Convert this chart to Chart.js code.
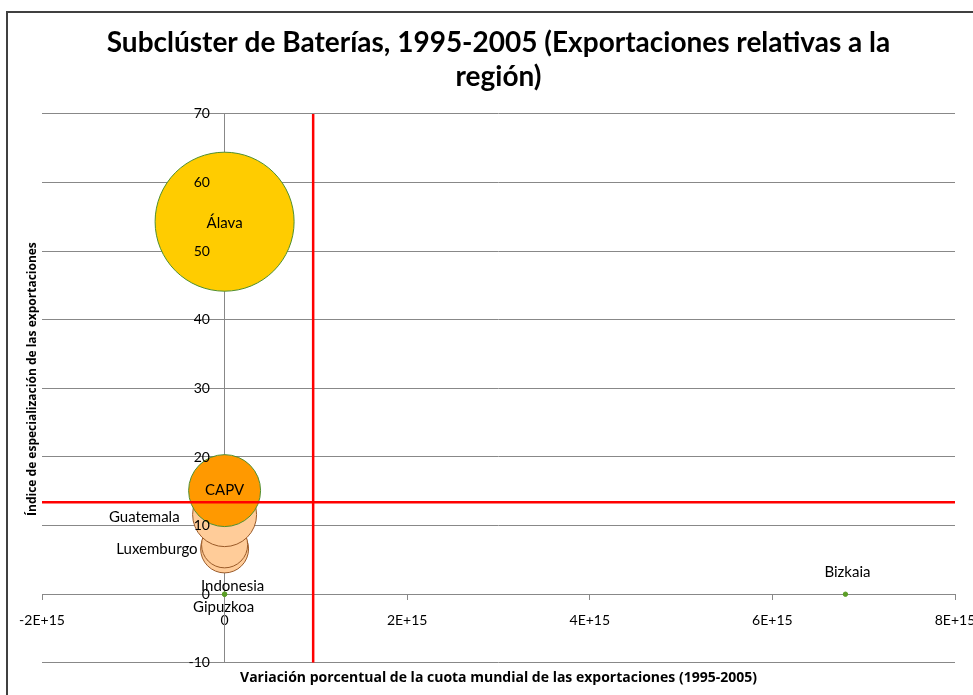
<!DOCTYPE html>
<html>
<head>
    <meta charset="UTF-8">
    <title>Subclúster de Baterías</title>
    <style>
        body {
            margin: 0;
            background: #ffffff;
            overflow: hidden;
        }

        #marco {
            position: absolute;
            left: 6px;
            top: 11px;
            width: 967px;
            height: 684px;
            border-left: 2px solid #404040;
            border-top: 2px solid #404040;
            box-sizing: border-box;
        }

        #contenedor {
            position: absolute;
            left: 0;
            top: 0;
            width: 973px;
            height: 695px;
        }
    </style>
    <script src="https://cdn.jsdelivr.net/npm/chart.js"></script>
</head>
<body>
    <div id="marco"></div>
    <div id="contenedor"><canvas id="grafico" width="973" height="695"></canvas></div>

    <script>
        // datos
        var nombres = ['Álava', 'Luxemburgo', '', 'Guatemala', 'CAPV', 'Indonesia', 'Gipuzkoa', 'Bizkaia'];
        var variacion = [0, 0, 0, 0, 0, 0, 0, 6.8e15];          // eje X
        var especializacion = [54.3, 6.6, 7.2, 11.6, 15.1, 0, 0, 0]; // eje Y
        var tamano = [100, 11.9, 11, 21.2, 26.8, 0.1, 0.1, 0.1];   // tamaño de burbuja

        var ticksX = [-2e15, 0, 2e15, 4e15, 6e15, 8e15];
        var ticksY = [-10, 0, 10, 20, 30, 40, 50, 60, 70];

        var mediaX = 0.97e15;
        var mediaY = 13.4;

        var radioMax = 69.5;
        function radio(s) {
            return radioMax * Math.sqrt(s / 100);
        }

        // colores por serie
        var colores = {
            'Álava': ['#FFCC00', '#4F8F2F'],
            'CAPV': ['#FF9900', '#4F8F2F'],
            'Guatemala': ['#FFCC99', '#9A5A28'],
            'Luxemburgo': ['#FFCC99', '#9A5A28'],
            '': ['#FFCC99', '#9A5A28'],
            'Indonesia': ['#5B9E26', '#5B9E26'],
            'Gipuzkoa': ['#5B9E26', '#5B9E26'],
            'Bizkaia': ['#5B9E26', '#5B9E26']
        };

        // donde va cada etiqueta respecto a su burbuja
        var posEtiqueta = {
            'Álava': { dx: 0, dy: 1, alinear: 'center' },
            'CAPV': { dx: 0, dy: 0, alinear: 'center' },
            'Guatemala': { dx: -45, dy: 3, alinear: 'right' },
            'Luxemburgo': { dx: -27, dy: 0, alinear: 'right' },
            'Indonesia': { dx: 8, dy: -8, alinear: 'center' },
            'Gipuzkoa': { dx: -1, dy: 13, alinear: 'center' },
            'Bizkaia': { dx: 2, dy: -22, alinear: 'center' }
        };

        var gris = '#888888';
        var fuenteTicks = { family: 'Lato', size: 14 };

        var etiquetas = {
            id: 'etiquetas',
            afterDatasetsDraw: function (chart) {
                var meta = chart.getDatasetMeta(2);
                var ctx = chart.ctx;
                ctx.save();
                ctx.font = '15px Lato';
                ctx.fillStyle = '#000000';
                ctx.textBaseline = 'middle';
                meta.data.forEach(function (el, i) {
                    var p = posEtiqueta[nombres[i]];
                    if (!p) return;
                    ctx.textAlign = p.alinear;
                    ctx.fillText(nombres[i], el.x + p.dx, el.y + p.dy);
                });
                ctx.restore();
            }
        };

        var puntos = nombres.map(function (n, i) {
            return { x: variacion[i], y: especializacion[i], r: radio(tamano[i]) };
        });

        function fijarTicksY(s) {
            s.ticks = ticksY.map(function (v) { return { value: v }; });
        }
        function sinPaddingY(s) {
            s.paddingTop = 0;
            s.paddingBottom = 0;
        }

        var ctx = document.getElementById('grafico').getContext('2d');
        new Chart(ctx, {
            type: 'bubble',
            data: {
                datasets: [{
                    type: 'line',
                    data: [{ x: mediaX, y: ticksY[0] }, { x: mediaX, y: ticksY[ticksY.length - 1] }],
                    borderColor: '#FF0000',
                    borderWidth: 2.5,
                    pointRadius: 0,
                    fill: false,
                    order: 0
                }, {
                    type: 'line',
                    data: [{ x: ticksX[0], y: mediaY }, { x: ticksX[ticksX.length - 1], y: mediaY }],
                    borderColor: '#FF0000',
                    borderWidth: 2.5,
                    pointRadius: 0,
                    fill: false,
                    order: 0
                }, {
                    data: puntos,
                    backgroundColor: nombres.map(function (n) { return colores[n][0]; }),
                    borderColor: nombres.map(function (n) { return colores[n][1]; }),
                    borderWidth: 1,
                    order: 1
                }]
            },
            options: {
                responsive: false,
                animation: false,
                devicePixelRatio: 1,
                events: [],
                layout: {
                    autoPadding: false,
                    padding: { left: 19.6, right: 18, top: 0, bottom: 6.4 }
                },
                plugins: {
                    legend: { display: false },
                    tooltip: { enabled: false },
                    title: {
                        display: true,
                        fullSize: false,
                        text: ['Subclúster de Baterías, 1995-2005 (Exportaciones relativas a la', 'región)'],
                        color: '#000000',
                        font: { family: 'Lato', size: 28, weight: 'bold', lineHeight: 1.214 },
                        padding: { top: 26, bottom: 20 }
                    }
                },
                scales: {
                    x: {
                        type: 'linear',
                        position: { y: 0 },
                        min: ticksX[0],
                        max: ticksX[ticksX.length - 1],
                        afterBuildTicks: function (s) {
                            s.ticks = ticksX.map(function (v) { return { value: v }; });
                        },
                        afterFit: function (s) {
                            s.paddingLeft = 0;
                            s.paddingRight = 0;
                        },
                        ticks: {
                            autoSkip: false,
                            maxRotation: 0,
                            padding: 13,
                            color: '#000000',
                            font: fuenteTicks,
                            callback: function (v) {
                                if (v === 0) return '0';
                                return (v / 1e15) + 'E+15';
                            }
                        },
                        grid: { drawOnChartArea: false, drawTicks: true, tickLength: 5, color: gris },
                        border: { color: gris, width: 1 }
                    },
                    y: {
                        type: 'linear',
                        position: { x: 0 },
                        min: ticksY[0],
                        max: ticksY[ticksY.length - 1],
                        afterBuildTicks: fijarTicksY,
                        afterFit: sinPaddingY,
                        ticks: { display: false },
                        grid: { drawTicks: false, color: gris },
                        border: { color: gris, width: 1 }
                    },
                    // etiquetas del eje Y, un poco a la izquierda del eje y encima de las burbujas
                    yEtiquetas: {
                        type: 'linear',
                        axis: 'y',
                        position: { x: -1.6e14 },
                        min: ticksY[0],
                        max: ticksY[ticksY.length - 1],
                        afterBuildTicks: fijarTicksY,
                        afterFit: sinPaddingY,
                        ticks: { z: 1, color: '#000000', font: fuenteTicks },
                        grid: { display: false, drawTicks: false },
                        border: { display: false }
                    },
                    x2: {
                        type: 'linear',
                        axis: 'x',
                        position: 'bottom',
                        ticks: { display: false },
                        grid: { display: false, drawTicks: false },
                        border: { display: false },
                        title: {
                            display: true,
                            text: 'Variación porcentual de la cuota mundial de las exportaciones (1995-2005)',
                            color: '#000000',
                            font: { family: 'Open Sans', size: 14, weight: 'bold' },
                            padding: { top: 7, bottom: 2 }
                        }
                    },
                    y2: {
                        type: 'linear',
                        axis: 'y',
                        position: 'left',
                        ticks: { display: false },
                        grid: { display: false, drawTicks: false },
                        border: { display: false },
                        title: {
                            display: true,
                            text: '      Índice de especialización de las exportaciones',
                            color: '#000000',
                            font: { family: 'Open Sans', size: 12, weight: 'bold' },
                            padding: { top: 6, bottom: 2 }
                        }
                    }
                }
            },
            plugins: [etiquetas]
        });
    </script>
</body>
</html>
